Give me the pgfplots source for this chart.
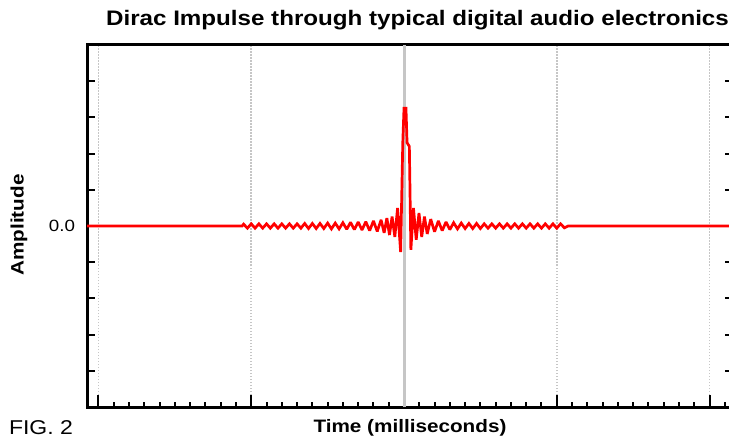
\documentclass[border=0pt]{standalone}
\usepackage{fontspec}
\setmainfont{Liberation Sans}
\newfontfamily\labfont[FakeStretch=1.15]{Liberation Sans}
\usepackage{pgfplots}
\pgfplotsset{compat=1.18}

\begin{document}
\begin{tikzpicture}
  \begin{axis}[
    scale only axis,
    width=646pt, height=362pt,
    at={(404pt,214pt)}, anchor=origin,
    xmin=-2.075, xmax=2.154,
    ymin=-5, ymax=5,
    axis line style={line width=3pt},
    tick align=inside,
    xtick pos=bottom,
    ytick pos=both,
    xtick={-2,-1,0,1,2},
    minor xtick={-2,-1.9,...,2.1},
    xticklabels={},
    ytick={-4,-3,...,4},
    yticklabels={{},{},{},{},0.0,{},{},{},{}},
    yticklabel style={font=\labfont\fontsize{16.3}{18}\selectfont, xshift=-8.5pt},
    major tick length=8pt,
    minor tick length=5pt,
    xtick style={/pgfplots/major tick length=12pt},
    tick style={black, line width=2pt},
    xmajorgrids,
    major grid style={gray!45, line width=1.5pt, dash pattern=on 1.5pt off 1.5pt},
    clip=false,
  ]
    % centre line of the time axis
    \addplot[gray!45, line width=3pt] coordinates {(0,-5) (0,5)};
    % impulse response
    \addplot[red, line width=2.7pt, line join=miter, miter limit=2] coordinates {
      (-2.075,0) (-1.060,0)
      (-1.050,0.05) (-1.025,-0.06) (-1.000,0.06) (-0.975,-0.06) (-0.950,0.06)
      (-0.925,-0.06) (-0.900,0.06) (-0.875,-0.06) (-0.850,0.06) (-0.825,-0.06)
      (-0.800,0.06) (-0.775,-0.06) (-0.750,0.06) (-0.725,-0.06) (-0.700,0.06)
      (-0.675,-0.06) (-0.650,0.07) (-0.625,-0.07) (-0.600,0.07) (-0.575,-0.07)
      (-0.550,0.07) (-0.525,-0.07) (-0.500,0.08) (-0.475,-0.08) (-0.450,0.08)
      (-0.425,-0.08) (-0.400,0.09) (-0.375,-0.09) (-0.350,0.10) (-0.325,-0.10)
      (-0.300,0.11) (-0.275,-0.11) (-0.250,0.12) (-0.225,-0.13) (-0.200,0.14)
      (-0.175,-0.15) (-0.150,0.17) (-0.130,-0.19) (-0.112,0.22) (-0.095,-0.25)
      (-0.078,0.26) (-0.060,-0.30) (-0.042,0.50) (-0.022,-0.72) (-0.008,2.30)
      (0.000,3.25) (0.013,3.25) (0.020,2.30) (0.035,2.20) (0.045,-0.66)
      (0.062,0.50) (0.080,-0.38) (0.098,0.36) (0.116,-0.30) (0.134,0.26)
      (0.152,-0.22) (0.175,0.19) (0.200,-0.16) (0.225,0.14) (0.250,-0.13)
      (0.275,0.11) (0.300,-0.10) (0.325,0.09) (0.350,-0.08) (0.375,0.08)
      (0.400,-0.07) (0.425,0.07) (0.450,-0.07) (0.475,0.07) (0.500,-0.07)
      (0.525,0.06) (0.550,-0.06) (0.575,0.06) (0.600,-0.06) (0.625,0.06)
      (0.650,-0.06) (0.675,0.06) (0.700,-0.06) (0.725,0.06) (0.750,-0.06)
      (0.775,0.06) (0.800,-0.06) (0.825,0.06) (0.850,-0.06) (0.875,0.06)
      (0.900,-0.06) (0.925,0.06) (0.950,-0.06) (0.975,0.06) (1.000,-0.06)
      (1.025,0.06) (1.050,-0.05) (1.075,0) (2.154,0)
    };
  \end{axis}
  \node at (417.5pt,420pt) {\labfont\fontsize{21}{24}\selectfont\bfseries Dirac Impulse through typical digital audio electronics};
  \node at (410pt,12pt) {\labfont\fontsize{18}{21}\selectfont\bfseries Time (milliseconds)};
  \node[rotate=90] at (19pt,215pt) {\labfont\fontsize{18}{21}\selectfont\bfseries Amplitude};
  \node[anchor=south, inner sep=0pt] at (41pt,5pt) {\labfont\fontsize{20}{24}\selectfont FIG. 2};
  \pgfresetboundingbox
  \path[use as bounding box] (0,0) rectangle (729pt,440pt);
\end{tikzpicture}
\end{document}
